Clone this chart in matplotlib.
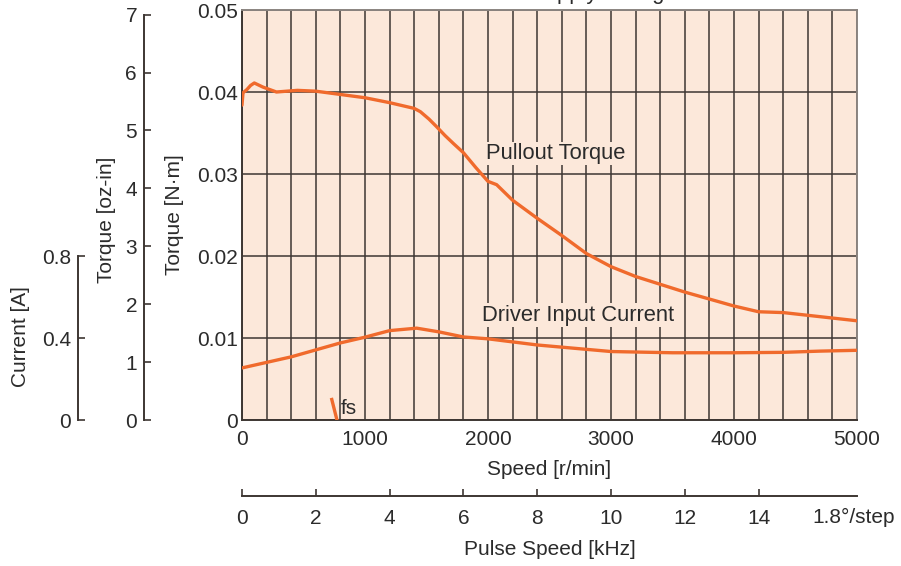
import numpy as np
import matplotlib
matplotlib.use("Agg")
import matplotlib.pyplot as plt
from matplotlib.ticker import MultipleLocator

plt.rcParams['font.family'] = ['Liberation Sans', 'DejaVu Sans']

# -----------------------------
# data
# -----------------------------
torque_speed = [0, 8, 40, 70, 100, 170, 280, 450, 600, 800, 1000, 1200, 1400, 1450,
                1520, 1580, 1650, 1720, 1800, 1900, 2000, 2070, 2200, 2400, 2600,
                2800, 3000, 3200, 3600, 4000, 4200, 4400, 4700, 5000]
torque_nm = [0.0384, 0.0399, 0.0403, 0.0408, 0.0411, 0.0406, 0.0400, 0.0402, 0.0401,
             0.0397, 0.0393, 0.0387, 0.0380, 0.0376, 0.0367, 0.0358, 0.0347, 0.0337,
             0.0326, 0.0308, 0.0291, 0.0287, 0.0268, 0.0246, 0.0225, 0.0203, 0.0187,
             0.0175, 0.0156, 0.0139, 0.0132, 0.0131, 0.0126, 0.0121]

current_speed = [0, 400, 800, 1000, 1200, 1420, 1600, 1800, 2000, 2400, 3000, 3500,
                 4000, 4400, 4700, 5000]
current_a = [0.254, 0.308, 0.376, 0.404, 0.436, 0.448, 0.430, 0.405, 0.396, 0.366,
             0.334, 0.328, 0.328, 0.330, 0.336, 0.340]

fs_speed = [730, 772]
fs_torque = [0.0025, 0.0]

torque_ticks = [0, 0.01, 0.02, 0.03, 0.04, 0.05]
torque_labels = ['0', '0.01', '0.02', '0.03', '0.04', '0.05']
oz_ticks = [0, 1, 2, 3, 4, 5, 6, 7]
current_ticks = [0, 0.4, 0.8]
current_labels = ['0', '0.4', '0.8']
pulse_ticks = [0, 2, 4, 6, 8, 10, 12, 14]

NM_TO_OZIN = 141.612
STEP_ANGLE = 1.8
MAX_SPEED = 5000
MAX_TORQUE = 0.05
MAX_CURRENT = 2.0

# -----------------------------
# layout helpers (pixel based)
# -----------------------------
W, H = 901, 566
BG = '#fce8da'
GRID = '#3d3632'
ORANGE = '#f06a2c'
TXT = '#2b2b2b'
FS = 15


def rect(l, t, r, b):
    return [l / W, 1 - b / H, (r - l) / W, (b - t) / H]


fig = plt.figure(figsize=(W / 100, H / 100), dpi=100)

# main torque axes
ax = fig.add_axes(rect(242, 10, 857, 420))
ax.set_facecolor(BG)
ax.set_xlim(0, MAX_SPEED)
ax.set_ylim(0, MAX_TORQUE)
ax.set_xticks(range(0, MAX_SPEED + 1, 1000))
ax.xaxis.set_minor_locator(MultipleLocator(200))
ax.set_yticks(torque_ticks, torque_labels)
ax.grid(which='both', axis='x', color=GRID, lw=1.1)
ax.grid(which='major', axis='y', color=GRID, lw=1.1)
ax.tick_params(which='both', length=0, labelsize=FS, labelcolor=TXT)
ax.tick_params(axis='x', pad=7)
ax.tick_params(axis='y', pad=3)
for s in ['top', 'right']:
    ax.spines[s].set_color('#8a8480')
    ax.spines[s].set_linewidth(1.4)
for s in ['left', 'bottom']:
    ax.spines[s].set_color(GRID)
    ax.spines[s].set_linewidth(1.4)
ax.set_xlabel('Speed [r/min]', fontsize=FS, color=TXT, labelpad=8)

ax.plot(torque_speed, torque_nm, color=ORANGE, lw=2.4, solid_capstyle='round',
        solid_joinstyle='round', zorder=4)
ax.plot(fs_speed, fs_torque, color=ORANGE, lw=2.4, zorder=4)
ax.text(805, 0.00145, 'fs', fontsize=FS, color=TXT, ha='left', va='center')

lbl_box = dict(facecolor=BG, edgecolor='none', pad=1)
ax.text(2550, 0.0325, 'Pullout Torque', fontsize=15.8, color=TXT,
        ha='center', va='center', bbox=lbl_box)
ax.text(2730, 0.0128, 'Driver Input Current', fontsize=15.8, color=TXT,
        ha='center', va='center', bbox=lbl_box)

# current curve on its own scale
ax_i = ax.twinx()
ax_i.set_ylim(0, MAX_CURRENT)
ax_i.set_yticks([])
for s in ax_i.spines.values():
    s.set_visible(False)
ax_i.plot(current_speed, current_a, color=ORANGE, lw=2.4, solid_capstyle='round',
          solid_joinstyle='round')

# torque oz-in axis
ax_oz = fig.add_axes(rect(144, 10, 145, 420))
ax_oz.patch.set_visible(False)
ax_oz.set_ylim(0, MAX_TORQUE * NM_TO_OZIN)
ax_oz.set_xticks([])
ax_oz.set_yticks(oz_ticks)
for s in ['top', 'right', 'bottom']:
    ax_oz.spines[s].set_visible(False)
ax_oz.spines['left'].set_bounds(0, 7)
ax_oz.spines['left'].set_color(GRID)
ax_oz.spines['left'].set_linewidth(1.4)
ax_oz.tick_params(axis='y', direction='in', length=5, width=1.2, color=GRID,
                  labelsize=FS, labelcolor=TXT, pad=5)

# current axis
ax_c = fig.add_axes(rect(78, 10, 79, 420))
ax_c.patch.set_visible(False)
ax_c.set_ylim(0, MAX_CURRENT)
ax_c.set_xticks([])
ax_c.set_yticks(current_ticks, current_labels)
for s in ['top', 'right', 'bottom']:
    ax_c.spines[s].set_visible(False)
ax_c.spines['left'].set_bounds(0, 0.8)
ax_c.spines['left'].set_color(GRID)
ax_c.spines['left'].set_linewidth(1.4)
ax_c.tick_params(axis='y', direction='in', length=5, width=1.2, color=GRID,
                 labelsize=FS, labelcolor=TXT, pad=5)

# pulse speed axis
ax_p = fig.add_axes(rect(242, 495, 857, 496))
ax_p.patch.set_visible(False)
ax_p.set_xlim(0, MAX_SPEED / 60 * (360 / STEP_ANGLE) / 1000)
ax_p.set_yticks([])
ax_p.set_xticks(pulse_ticks)
for s in ['top', 'right', 'left']:
    ax_p.spines[s].set_visible(False)
ax_p.spines['bottom'].set_color(GRID)
ax_p.spines['bottom'].set_linewidth(1.4)
ax_p.tick_params(axis='x', direction='in', length=5, width=1.2, color=GRID,
                 labelsize=FS, labelcolor=TXT, pad=9)
ax_p.set_xlabel('Pulse Speed [kHz]', fontsize=FS, color=TXT, labelpad=9)

# free texts
fig.text(812 / W, 1 - 517 / H, '1.8°/step', fontsize=FS, color=TXT,
         ha='left', va='center')
fig.text(175 / W, 1 - 215 / H, 'Torque [N·m]', fontsize=FS, color=TXT,
         rotation=90, ha='center', va='center')
fig.text(106 / W, 1 - 220 / H, 'Torque [oz-in]', fontsize=FS, color=TXT,
         rotation=90, ha='center', va='center')
fig.text(21 / W, 1 - 337 / H, 'Current [A]', fontsize=FS, color=TXT,
         rotation=90, ha='center', va='center')
# title line, cut off by the top of the picture as in the source
fig.text(462 / W, 1 + 1.5 / H, 'Power Supply Voltage 24 VDC', fontsize=15.8,
         color=TXT, ha='left', va='baseline')

fig.savefig('out.png', dpi=100, facecolor='white')
